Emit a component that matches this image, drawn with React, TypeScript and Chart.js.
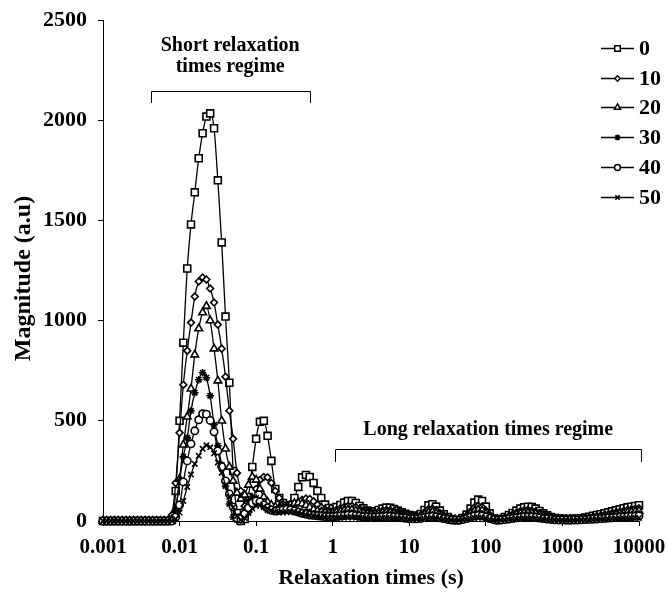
import React, { useEffect, useRef } from "react";
import { Chart, registerables } from "chart.js";

Chart.register(...registerables);

// Relaxation times (s), log-spaced grid from 0.001 to 10000
const relaxationTimes = [
  0.001, 0.00112, 0.00126, 0.00141, 0.00158, 0.00178, 0.002, 0.00224, 0.00251, 0.00282,
  0.00316, 0.00355, 0.00398, 0.00447, 0.00501, 0.00562, 0.00631, 0.00708, 0.00794, 0.00891,
  0.01, 0.0112, 0.0126, 0.0141, 0.0158, 0.0178, 0.02, 0.0224, 0.0251, 0.0282,
  0.0316, 0.0355, 0.0398, 0.0447, 0.0501, 0.0562, 0.0631, 0.0708, 0.0794, 0.0891,
  0.1, 0.112, 0.126, 0.141, 0.158, 0.178, 0.2, 0.224, 0.251, 0.282,
  0.316, 0.355, 0.398, 0.447, 0.501, 0.562, 0.631, 0.708, 0.794, 0.891,
  1, 1.12, 1.26, 1.41, 1.58, 1.78, 2, 2.24, 2.51, 2.82,
  3.16, 3.55, 3.98, 4.47, 5.01, 5.62, 6.31, 7.08, 7.94, 8.91,
  10, 11.2, 12.6, 14.1, 15.8, 17.8, 20, 22.4, 25.1, 28.2,
  31.6, 35.5, 39.8, 44.7, 50.1, 56.2, 63.1, 70.8, 79.4, 89.1,
  100, 112, 126, 141, 158, 178, 200, 224, 251, 282,
  316, 355, 398, 447, 501, 562, 631, 708, 794, 891,
  1000, 1122, 1259, 1413, 1585, 1778, 1995, 2239, 2512, 2818,
  3162, 3548, 3981, 4467, 5012, 5623, 6310, 7079, 7943, 8913,
  10000,
];

const seriesNames = ["0", "10", "20", "30", "40", "50"];

const magnitude0 = [
  0, 0, 0, 0, 0, 0, 0, 0, 0, 0, 0, 0, 0, 0, 0, 0, 0, 0,
  5, 150, 500, 890, 1260, 1480, 1640, 1810, 1935, 2018,
  2034, 1960, 1700, 1390, 1020, 690, 250, 40, 0, 10,
  120, 270, 410, 495, 500, 425, 300, 160, 115, 90,
  72, 80, 115, 170, 218, 230, 220, 190, 150, 115,
  82, 65, 60,
  70, 80, 92, 100, 100, 90, 75, 63, 52, 46,
  48, 55, 62, 67, 66, 60, 52, 43, 36, 30,
  26, 26, 35, 55, 78, 84, 72, 52, 34, 20,
  10, 5, 6, 15, 32, 62, 92, 107, 100, 72,
  38, 12, 5, 10, 20, 30, 40, 52, 62, 68,
  71, 70, 62, 50, 38, 28, 20, 15, 12, 11,
  10, 10, 11, 12, 14, 17, 21, 26, 30, 34,
  38, 43, 48, 53, 58, 63, 68, 71, 75, 79,
];

const magnitude10 = [
  0, 0, 0, 0, 0, 0, 0, 0, 0, 0, 0, 0, 0, 0, 0, 0, 0, 0,
  30, 190, 440, 680, 850, 990, 1120, 1195, 1215, 1205,
  1160, 1090, 980, 860, 720, 550, 410, 240, 150, 75,
  45, 90, 160, 205, 220, 218, 190, 150, 115, 85,
  70, 72, 82, 95, 106, 112, 110, 98, 82, 68,
  58, 52, 50,
  56, 63, 70, 75, 76, 70, 60, 52, 46, 43,
  44, 48, 52, 55, 54, 50, 44, 37, 31, 27,
  24, 24, 30, 44, 58, 62, 54, 40, 27, 17,
  10, 7, 8, 14, 27, 48, 68, 76, 70, 52,
  30, 14, 8, 10, 17, 25, 33, 42, 49, 53,
  55, 53, 47, 39, 30, 23, 17, 13, 11, 10,
  9, 9, 10, 11, 12, 14, 17, 21, 24, 27,
  31, 35, 39, 43, 47, 51, 55, 58, 61, 64,
];

const magnitude20 = [
  0, 0, 0, 0, 0, 0, 0, 0, 0, 0, 0, 0, 0, 0, 0, 0, 0, 0,
  10, 60, 210, 380, 520, 660, 830, 960, 1040, 1072,
  1000, 860, 700, 500, 360, 270, 200, 140, 110, 130,
  180, 220, 205, 160, 120, 95, 80, 70, 65, 68,
  75, 82, 88, 90, 86, 78, 68, 58, 50, 45,
  42, 40, 40,
  44, 48, 53, 56, 56, 52, 46, 40, 36, 34,
  35, 38, 41, 43, 42, 39, 34, 29, 25, 22,
  20, 20, 24, 34, 43, 46, 40, 31, 22, 14,
  9, 6, 7, 12, 22, 37, 50, 56, 52, 39,
  24, 12, 7, 9, 14, 20, 26, 32, 37, 40,
  41, 40, 36, 30, 24, 18, 14, 11, 9, 8,
  8, 8, 8, 9, 10, 12, 14, 16, 19, 21,
  24, 27, 30, 33, 36, 39, 42, 45, 47, 50,
];

const magnitude30 = [
  0, 0, 0, 0, 0, 0, 0, 0, 0, 0, 0, 0, 0, 0, 0, 0, 0, 0,
  5, 55, 200, 320, 415, 550, 640, 705, 740, 715,
  625, 480, 375, 280, 175, 85, 20, 5, 20, 60,
  100, 120, 115, 95, 70, 55, 50, 55, 62, 68,
  70, 66, 58, 50, 44, 40, 38, 36, 34, 32,
  30, 30, 30,
  32, 35, 38, 40, 40, 37, 33, 29, 26, 25,
  26, 28, 30, 31, 31, 29, 26, 22, 19, 17,
  15, 15, 18, 24, 30, 32, 28, 22, 16, 11,
  7, 5, 6, 9, 16, 26, 35, 39, 36, 28,
  18, 9, 5, 7, 10, 14, 18, 22, 26, 28,
  29, 28, 25, 21, 17, 13, 10, 8, 7, 6,
  6, 6, 6, 7, 8, 9, 10, 12, 14, 16,
  18, 20, 22, 24, 26, 28, 30, 32, 34, 36,
];

const magnitude40 = [
  0, 0, 0, 0, 0, 0, 0, 0, 0, 0, 0, 0, 0, 0, 0, 0, 0, 0,
  0, 20, 80, 195, 300, 385, 450, 505, 535, 533,
  502, 445, 350, 271, 200, 135, 70, 15, 10, 35,
  65, 90, 100, 95, 80, 65, 55, 50, 52, 56,
  58, 56, 50, 44, 38, 34, 30, 28, 26, 24,
  22, 22, 22,
  23, 25, 27, 29, 29, 27, 24, 21, 19, 18,
  19, 20, 22, 23, 23, 21, 19, 16, 14, 12,
  11, 11, 13, 17, 21, 23, 20, 16, 12, 8,
  5, 4, 4, 7, 12, 19, 25, 28, 26, 20,
  13, 7, 4, 5, 7, 10, 13, 16, 18, 20,
  21, 20, 18, 15, 12, 10, 8, 6, 5, 5,
  4, 4, 5, 5, 6, 7, 8, 9, 10, 12,
  13, 15, 16, 18, 19, 21, 22, 23, 24, 25,
];

const magnitude50 = [
  0, 0, 0, 0, 0, 0, 0, 0, 0, 0, 0, 0, 0, 0, 0, 0, 0, 0,
  0, 10, 42, 100, 170, 232, 285, 325, 360, 378,
  368, 338, 292, 240, 180, 120, 68, 25, 5, 15,
  40, 62, 75, 78, 72, 62, 52, 45, 42, 42,
  44, 45, 44, 40, 35, 30, 26, 23, 20, 18,
  16, 15, 15,
  15, 16, 17, 18, 18, 17, 15, 14, 12, 12,
  12, 13, 14, 14, 14, 13, 12, 10, 9, 8,
  7, 7, 8, 11, 13, 14, 12, 10, 7, 5,
  3, 2, 3, 4, 7, 11, 15, 17, 16, 12,
  8, 4, 2, 3, 4, 6, 8, 9, 11, 12,
  13, 12, 11, 9, 7, 6, 5, 4, 3, 3,
  3, 3, 3, 3, 4, 4, 5, 6, 6, 7,
  8, 9, 10, 11, 12, 13, 13, 14, 15, 15,
];

const allSeries = [magnitude0, magnitude10, magnitude20, magnitude30, magnitude40, magnitude50];

const xTickValues = [0.001, 0.01, 0.1, 1, 10, 100, 1000, 10000];
const xTickLabels = ["0.001", "0.01", "0.1", "1", "10", "100", "1000", "10000"];
const yTickValues = [0, 500, 1000, 1500, 2000, 2500];

const xTitle = "Relaxation times (s)";
const yTitle = "Magnitude (a.u)";
const shortLabelLines = ["Short relaxation", "times regime"];
const longLabel = "Long relaxation times regime";
const shortRegime = [0.0042, 0.5];
const longRegime = [1.08, 10700];

const markerStyles = ["rect", "rectRot", "triangle", "star", "circle", "crossRot"];
const markerRadii = [4.9, 3.4, 4.4, 3.8, 3.7, 3.8];

const FONT = '"Liberation Serif", "Times New Roman", serif';

function drawMarker(ctx: CanvasRenderingContext2D, style: string, x: number, y: number, r: number) {
  ctx.beginPath();
  if (style === "rect") {
    const s = r * Math.SQRT1_2;
    ctx.rect(x - s, y - s, 2 * s, 2 * s);
    ctx.fill();
    ctx.stroke();
  } else if (style === "rectRot") {
    ctx.moveTo(x - r, y);
    ctx.lineTo(x, y - r);
    ctx.lineTo(x + r, y);
    ctx.lineTo(x, y + r);
    ctx.closePath();
    ctx.fill();
    ctx.stroke();
  } else if (style === "triangle") {
    let a = 0;
    ctx.moveTo(x + Math.sin(a) * r, y - Math.cos(a) * r);
    a += (2 * Math.PI) / 3;
    ctx.lineTo(x + Math.sin(a) * r, y - Math.cos(a) * r);
    a += (2 * Math.PI) / 3;
    ctx.lineTo(x + Math.sin(a) * r, y - Math.cos(a) * r);
    ctx.closePath();
    ctx.fill();
    ctx.stroke();
  } else if (style === "circle") {
    ctx.arc(x, y, r, 0, Math.PI * 2);
    ctx.fill();
    ctx.stroke();
  } else if (style === "star") {
    const d = r * Math.SQRT1_2;
    ctx.moveTo(x - r, y); ctx.lineTo(x + r, y);
    ctx.moveTo(x, y - r); ctx.lineTo(x, y + r);
    ctx.moveTo(x - d, y - d); ctx.lineTo(x + d, y + d);
    ctx.moveTo(x - d, y + d); ctx.lineTo(x + d, y - d);
    ctx.stroke();
  } else if (style === "crossRot") {
    const d = r * Math.SQRT1_2;
    ctx.moveTo(x - d, y - d); ctx.lineTo(x + d, y + d);
    ctx.moveTo(x - d, y + d); ctx.lineTo(x + d, y - d);
    ctx.stroke();
  }
}

const overlayPlugin = {
  id: "overlay",
  afterDraw(chart: any) {
    const ctx: CanvasRenderingContext2D = chart.ctx;
    const ca = chart.chartArea;
    const xs = chart.scales.x;
    const ys = chart.scales.y;
    ctx.save();
    ctx.fillStyle = "#000";
    ctx.strokeStyle = "#000";
    ctx.lineWidth = 1;

    // axis titles
    ctx.textAlign = "center";
    ctx.textBaseline = "middle";
    ctx.font = `bold 22px ${FONT}`;
    ctx.fillText(xTitle, (ca.left + ca.right) / 2, 578);
    ctx.save();
    ctx.font = `bold 24px ${FONT}`;
    ctx.translate(24, (ca.top + ca.bottom) / 2 + 8);
    ctx.rotate(-Math.PI / 2);
    ctx.fillText(yTitle, 0, 0);
    ctx.restore();

    // regime annotations
    ctx.font = `bold 20px ${FONT}`;
    ctx.textBaseline = "alphabetic";
    const sx0 = xs.getPixelForValue(shortRegime[0]);
    const sx1 = xs.getPixelForValue(shortRegime[1]);
    const sc = (sx0 + sx1) / 2;
    ctx.fillText(shortLabelLines[0], sc, 51);
    ctx.fillText(shortLabelLines[1], sc, 72);
    const sy = ys.getPixelForValue(2146);
    const sy2 = ys.getPixelForValue(2086);
    ctx.beginPath();
    ctx.moveTo(Math.round(sx0) + 0.5, sy2);
    ctx.lineTo(Math.round(sx0) + 0.5, Math.round(sy) + 0.5);
    ctx.lineTo(Math.round(sx1) + 0.5, Math.round(sy) + 0.5);
    ctx.lineTo(Math.round(sx1) + 0.5, sy2);
    ctx.stroke();

    const lx0 = xs.getPixelForValue(longRegime[0]);
    const lx1 = xs.getPixelForValue(longRegime[1]);
    const lc = (lx0 + lx1) / 2;
    ctx.fillText(longLabel, lc, 435);
    const ly = ys.getPixelForValue(358);
    const ly2 = ys.getPixelForValue(294);
    ctx.beginPath();
    ctx.moveTo(Math.round(lx0) + 0.5, ly2);
    ctx.lineTo(Math.round(lx0) + 0.5, Math.round(ly) + 0.5);
    ctx.lineTo(Math.round(lx1) + 0.5, Math.round(ly) + 0.5);
    ctx.lineTo(Math.round(lx1) + 0.5, ly2);
    ctx.stroke();

    // legend
    ctx.font = `bold 22px ${FONT}`;
    ctx.textAlign = "left";
    ctx.textBaseline = "middle";
    for (let k = 0; k < seriesNames.length; k++) {
      const y = Math.round(48 + k * 29.7) + 0.5;
      ctx.lineWidth = 1.3;
      ctx.beginPath();
      ctx.moveTo(601, y);
      ctx.lineTo(634, y);
      ctx.stroke();
      ctx.fillStyle = "#fff";
      ctx.lineWidth = 1.5;
      drawMarker(ctx, markerStyles[k], 617.5, y, markerRadii[k] * 0.8);
      ctx.fillStyle = "#000";
      ctx.fillText(seriesNames[k], 639, y + 1);
    }
    ctx.restore();
  },
};

export default function App() {
  const canvasRef = useRef<HTMLCanvasElement | null>(null);

  useEffect(() => {
    const canvas = canvasRef.current;
    if (!canvas) return;
    const datasets = allSeries.map((vals, k) => ({
      label: seriesNames[k],
      data: relaxationTimes.map((t, i) => ({ x: t, y: vals[i] })),
      borderColor: "#000",
      borderWidth: 1.3,
      pointStyle: markerStyles[k] as any,
      pointRadius: markerRadii[k],
      pointBackgroundColor: "#fff",
      pointBorderColor: "#000",
      pointBorderWidth: 1.6,
      cubicInterpolationMode: "monotone" as const,
      fill: false,
      clip: false as any,
      order: allSeries.length - k,
    }));

    const chart = new Chart(canvas, {
      type: "line",
      data: { datasets },
      options: {
        responsive: false,
        animation: false,
        devicePixelRatio: 1,
        layout: { padding: { left: 0, right: 28, top: 20, bottom: 0 } },
        plugins: { legend: { display: false }, tooltip: { enabled: false } },
        scales: {
          x: {
            type: "logarithmic",
            min: 0.001,
            max: 10000,
            afterBuildTicks: (scale: any) => {
              scale.ticks = xTickValues.map((v) => ({ value: v }));
            },
            afterFit: (scale: any) => {
              scale.height = 79;
              scale.paddingLeft = 0;
              scale.paddingRight = 0;
            },
            ticks: {
              autoSkip: false,
              maxRotation: 0,
              padding: 9,
              color: "#000",
              font: { family: FONT, size: 21, weight: "bold" },
              callback: (value: any) => {
                const idx = xTickValues.indexOf(Number(value));
                return idx >= 0 ? xTickLabels[idx] : "";
              },
            },
            grid: {
              display: true,
              drawOnChartArea: false,
              drawTicks: true,
              tickLength: 5,
              color: "#000",
              lineWidth: 1,
            },
            border: { display: true, color: "#000", width: 1 },
          },
          y: {
            type: "linear",
            min: 0,
            max: 2500,
            afterBuildTicks: (scale: any) => {
              scale.ticks = yTickValues.map((v) => ({ value: v }));
            },
            afterFit: (scale: any) => {
              scale.width = 103;
              scale.paddingTop = 0;
              scale.paddingBottom = 0;
            },
            ticks: {
              padding: 11,
              color: "#000",
              font: { family: FONT, size: 22, weight: "bold" },
              callback: (value: any) => String(value),
            },
            grid: {
              display: true,
              drawOnChartArea: false,
              drawTicks: true,
              tickLength: 5,
              color: "#000",
              lineWidth: 1,
            },
            border: { display: true, color: "#000", width: 1 },
          },
        },
      } as any,
      plugins: [overlayPlugin],
    });
    return () => chart.destroy();
  }, []);

  return (
    <div style={{ position: "absolute", left: 0, top: 0, width: 667, height: 600, background: "#fff" }}>
      <canvas ref={canvasRef} width={667} height={600} style={{ display: "block" }} />
    </div>
  );
}
